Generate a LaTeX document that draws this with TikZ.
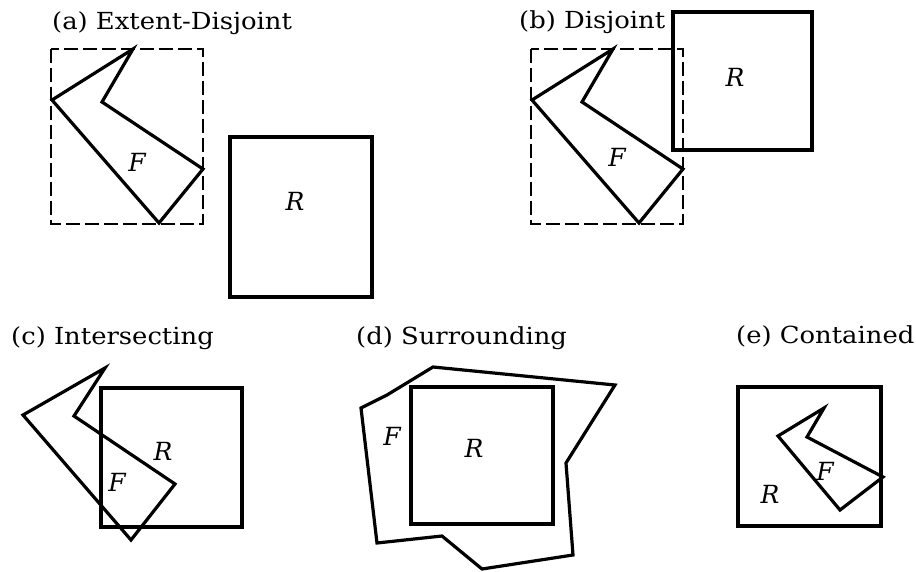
\documentclass[tikz,border=0pt]{standalone}
\usepackage{fontspec}
\setmainfont{DejaVu Serif}
\newcommand{\ttl}[1]{\scalebox{1.1}[1]{#1}}
\begin{document}
\begin{tikzpicture}[x=1pt,y=-1pt,
  poly/.style={line width=3.2pt,line join=miter},
  rbox/.style={line width=3.2pt},
  extent/.style={line width=1.7pt,dash pattern=on 14pt off 5pt},
  title/.style={anchor=base west,inner sep=0pt,font=\fontsize{23.5}{26}\selectfont},
  lbl/.style={inner sep=0pt,font=\fontsize{25}{28}\selectfont\itshape}]
\useasboundingbox (0,0) rectangle (916,572);
% (a)
\node[title] (ta) at (52,30) {\ttl{(a) Extent-Disjoint}};
\draw[extent] (51,49) rectangle (203,224);
\draw[poly] (133,49) -- (102,102) -- (203,169) -- (159,223) -- (52,100) -- cycle;
\draw[rbox] (230,137) rectangle (372,297);
\node[lbl] (fa) at (137,162) {F};
\node[lbl] (ra) at (295,201) {R};
% (b)
\node[title] (tb) at (519,29) {\ttl{(b) Disjoint}};
\draw[extent] (531,49) rectangle (683,224);
\draw[poly] (613,49) -- (582,102) -- (683,169) -- (639,223) -- (532,100) -- cycle;
\draw[rbox] (673,12) rectangle (812,150);
\node[lbl] (fb) at (617,157) {F};
\node[lbl] (rb) at (735,77) {R};
% (c)
\node[title] (tc) at (11,344) {\ttl{(c) Intersecting}};
\draw[rbox] (101,388) rectangle (242,527);
\draw[poly] (105,368) -- (74,416) -- (175,484) -- (131,540) -- (23,415) -- cycle;
\node[lbl] (rc) at (163,451) {R};
\node[lbl] (fc) at (117,482) {F};
% (d)
\node[title] (td) at (356,344) {\ttl{(d) Surrounding}};
\draw[rbox] (411,387) rectangle (553,524);
\draw[poly] (433,367) -- (615,385) -- (566,463) -- (573,555) -- (482,569) -- (442,536) -- (377,543) -- (361,408) -- (387,395) -- cycle;
\node[lbl] (rd) at (474,448) {R};
\node[lbl] (fd) at (392,436) {F};
% (e)
\node[title] (te) at (736,343) {\ttl{(e) Contained}};
\draw[rbox] (738,387) rectangle (881,526);
\draw[poly] (824,408) -- (807,437) -- (883,477) -- (840,510) -- (778,436) -- cycle;
\node[lbl] (re) at (770,494) {R};
\node[lbl] (fe) at (825,471) {F};
\end{tikzpicture}
\end{document}
